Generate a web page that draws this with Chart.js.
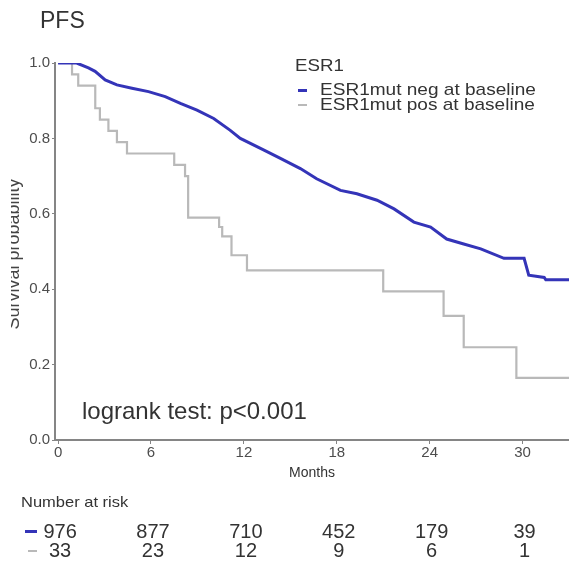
<!DOCTYPE html>
<html>
<head>
<meta charset="utf-8">
<title>PFS by ESR1 status</title>
<script src="https://cdn.jsdelivr.net/npm/chart.js@4/dist/chart.umd.min.js"></script>
<style>
  html, body { margin: 0; padding: 0; background: #fff; }
  #pfsChart { display: block; }
</style>
</head>
<body>
<canvas id="pfsChart" width="569" height="566"></canvas>
<script>
// Kaplan-Meier estimates, months vs survival probability
const negMonths = [0, 1.2, 1.96, 2.39, 3.04, 3.8, 4.77, 5.84, 6.92, 7.9, 8.97, 10.05, 11.1, 11.77, 13.3, 14.36, 15.65, 16.7, 18.24, 19.3, 20.6, 21.7, 22.98, 24.06, 25.1, 26.2, 27.3, 28.8, 30.1, 30.4, 31.4, 31.5, 33];
const negSurv = [1.0, 1.0, 0.987, 0.978, 0.955, 0.942, 0.933, 0.924, 0.911, 0.893, 0.875, 0.853, 0.822, 0.80, 0.769, 0.747, 0.72, 0.693, 0.662, 0.653, 0.636, 0.613, 0.578, 0.565, 0.533, 0.52, 0.507, 0.482, 0.482, 0.437, 0.431, 0.425, 0.425];

const posMonths = [0, 0.9, 1.3, 2.4, 2.7, 3.25, 3.8, 4.45, 7.5, 8.2, 8.4, 10.4, 10.6, 11.2, 12.2, 21.0, 24.9, 26.2, 29.6, 33];
const posSurv = [1.0, 0.97, 0.94, 0.88, 0.85, 0.82, 0.79, 0.76, 0.73, 0.70, 0.59, 0.565, 0.54, 0.49, 0.45, 0.394, 0.329, 0.246, 0.165, 0.165];

// number at risk table
const riskMonths = [0, 6, 12, 18, 24, 30];
const riskNeg = [976, 877, 710, 452, 179, 39];
const riskPos = [33, 23, 12, 9, 6, 1];

const xTicks = [0, 6, 12, 18, 24, 30];
const yTicks = [0, 0.2, 0.4, 0.6, 0.8, 1.0];

const seriesNames = ['ESR1mut neg at baseline', 'ESR1mut pos at baseline'];
const pValueText = 'logrank test: p<0.001';

const BLUE = '#3434b8';
const GREY = '#b9b9b9';
const FONT = "'Liberation Sans', Arial, sans-serif";

const toPoints = (xs, ys) => xs.map((x, i) => ({ x: x, y: ys[i] }));

// text drawn a little wider than the font's natural width
function wideText(ctx, text, x, y, sx) {
  ctx.save();
  ctx.translate(x, y);
  ctx.scale(sx, 1);
  ctx.fillText(text, 0, 0);
  ctx.restore();
}

// title, legend, p-value, y title and risk table
const annotations = {
  id: 'annotations',
  afterDraw(chart) {
    const ctx = chart.ctx;
    const x = chart.scales.x;
    ctx.save();
    ctx.fillStyle = '#333';
    ctx.textBaseline = 'middle';

    ctx.font = '23px ' + FONT;
    ctx.fillText('PFS', 40, 22);

    // legend
    ctx.font = '17px ' + FONT;
    wideText(ctx, 'ESR1', 295, 66, 1.1);
    wideText(ctx, seriesNames[0], 320, 90, 1.12);
    wideText(ctx, seriesNames[1], 320, 105, 1.12);
    ctx.fillStyle = BLUE;
    ctx.fillRect(298, 89, 9, 3);
    ctx.fillStyle = GREY;
    ctx.fillRect(298, 104, 9, 2);

    ctx.fillStyle = '#333';
    ctx.font = '24px ' + FONT;
    ctx.fillText(pValueText, 82, 412);

    // number at risk
    ctx.font = '15px ' + FONT;
    wideText(ctx, 'Number at risk', 21, 503, 1.1);
    ctx.font = '20px ' + FONT;
    ctx.textAlign = 'center';
    riskMonths.forEach((m, i) => {
      const px = x.getPixelForValue(m);
      ctx.fillText(String(riskNeg[i]), px + 2, 532);
      ctx.fillText(String(riskPos[i]), px + 2, 551);
    });
    ctx.fillStyle = BLUE;
    ctx.fillRect(25, 530, 12, 3);
    ctx.fillStyle = GREY;
    ctx.fillRect(28, 550, 9, 2);

    // rotated y title, its left edge runs off the frame
    ctx.beginPath();
    ctx.rect(11, 0, 60, 566);
    ctx.clip();
    ctx.fillStyle = '#444';
    ctx.font = '18px ' + FONT;
    ctx.textBaseline = 'alphabetic';
    ctx.translate(19, 254);
    ctx.rotate(-Math.PI / 2);
    ctx.fillText('Survival probability', 0, 0);
    ctx.restore();
  }
};

new Chart('pfsChart', {
  type: 'line',
  data: {
    datasets: [
      {
        label: seriesNames[0],
        data: toPoints(negMonths, negSurv),
        borderColor: BLUE,
        borderWidth: 3,
        pointRadius: 0,
        tension: 0
      },
      {
        label: seriesNames[1],
        data: toPoints(posMonths, posSurv),
        borderColor: GREY,
        borderWidth: 2.2,
        pointRadius: 0,
        stepped: 'before'
      }
    ]
  },
  options: {
    responsive: false,
    animation: false,
    layout: { padding: { top: 63, left: 0, right: 0, bottom: 84 } },
    plugins: {
      legend: { display: false },
      tooltip: { enabled: false }
    },
    scales: {
      x: {
        type: 'linear',
        min: -0.2,
        max: 33,
        afterBuildTicks: (s) => { s.ticks = xTicks.map(v => ({ value: v })); },
        afterFit: (s) => { s.height = 42; },
        border: { display: true, color: '#858585', width: 2 },
        grid: { drawOnChartArea: false, tickLength: 4, color: '#858585', lineWidth: 1 },
        ticks: { color: '#4d4d4d', font: { family: FONT, size: 15 }, padding: 0, maxRotation: 0 },
        title: { display: true, text: 'Months', color: '#333', font: { family: FONT, size: 14 }, padding: 0 }
      },
      y: {
        min: 0,
        max: 1,
        afterBuildTicks: (s) => { s.ticks = yTicks.map(v => ({ value: v })); },
        afterFit: (s) => { s.width = 55; },
        border: { display: true, color: '#858585', width: 2 },
        grid: { drawOnChartArea: false, tickLength: 3, color: '#858585', lineWidth: 1 },
        ticks: { color: '#4d4d4d', font: { family: FONT, size: 15 }, padding: 2, callback: (v) => v.toFixed(1) }
      }
    }
  },
  plugins: [annotations]
});
</script>
</body>
</html>
